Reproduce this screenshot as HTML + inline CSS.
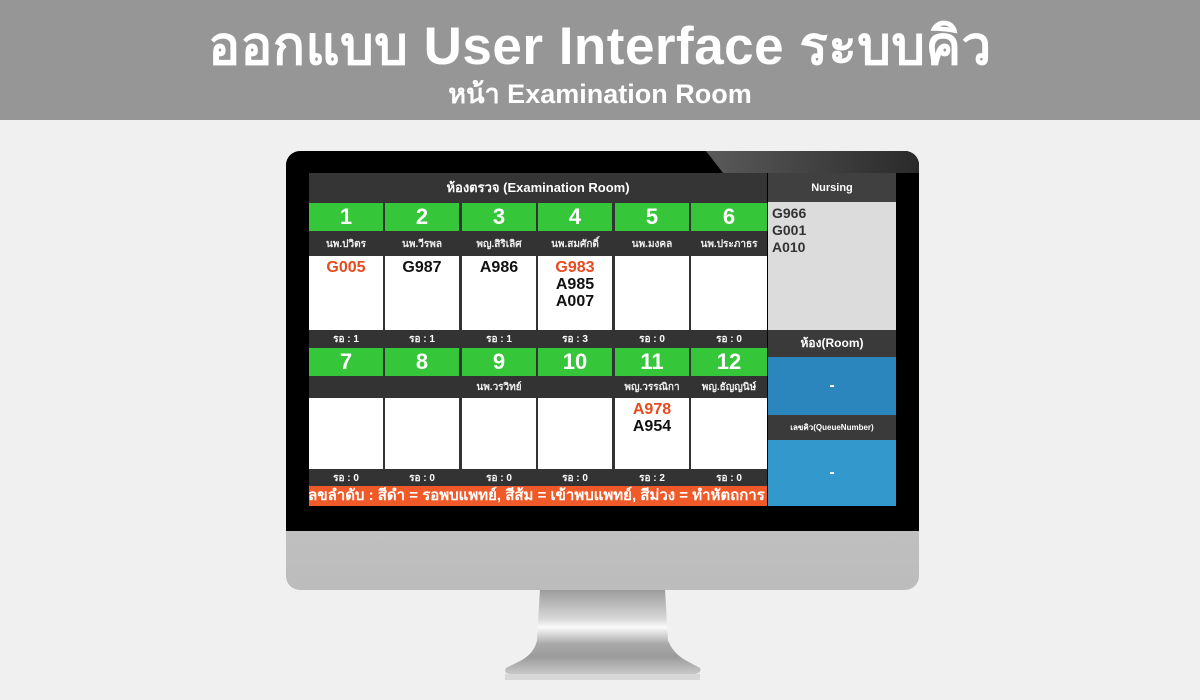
<!DOCTYPE html>
<html><head><meta charset="utf-8"><style>
*{margin:0;padding:0;box-sizing:border-box}
body{width:1200px;height:700px;background:#f0f0f0;position:relative;overflow:hidden;font-family:"Liberation Sans","Noto Sans CJK SC",sans-serif;font-weight:bold}
div,span{font-weight:bold}
.a{position:absolute}
.hdr{left:0;top:0;width:1200px;height:120px;background:#969696;color:#fff;text-align:center}
.c{display:flex;align-items:center;justify-content:center;color:#fff}
.dk{background:#383838}
.gr{background:#36c63a;font-size:22px}
.nm{font-size:10px;color:#eee}
.wt{background:#fff;color:#111;font-size:16px;text-align:center;line-height:17px;padding-top:3px}
.wa{font-size:10px}
.r{color:#e8491d}
</style></head><body>
<div class="a hdr">
<div class="a" style="left:0;width:1200px;top:4px;font-size:53px;letter-spacing:0.5px">ออกแบบ User Interface ระบบคิว</div>
<div class="a" style="left:0;width:1200px;top:72px;font-size:27px">หน้า Examination Room</div>
</div>
<svg class="a" style="left:0;top:0" width="1200" height="700">
<defs><linearGradient id="st" x1="0" y1="0" x2="0" y2="1">
<stop offset="0" stop-color="#9a9a9a"/><stop offset="0.35" stop-color="#d8d8d8"/><stop offset="0.45" stop-color="#fafafa"/><stop offset="0.65" stop-color="#a8a8a8"/><stop offset="0.8" stop-color="#9c9c9c"/><stop offset="1" stop-color="#c8c8c8"/></linearGradient></defs>
<path d="M540 589 L665 589 L668 640 Q672 652 685 660 L700 668 Q702 673 695 674 L510 674 Q503 673 506 668 L522 660 Q535 652 537 640 Z" fill="url(#st)"/>
<rect x="505" y="674" width="195" height="6" fill="#d8d8d8"/>
</svg>
<div class="a" style="left:286px;top:151px;width:633px;height:439px;border-radius:14px;background:linear-gradient(#d4d4d4,#bcbcbc);overflow:hidden">
<div class="a" style="left:0;top:0;width:633px;height:380px;background:#000"></div>
<div class="a" style="left:420px;top:0;width:213px;height:22px;background:linear-gradient(90deg,#5a5a5a,#2a2a2a);clip-path:polygon(0 0,100% 0,100% 100%,8% 100%)"></div>
</div>
<div class="a dk c" style="left:309px;top:173px;width:458px;height:29px;font-size:13px;background:#353535">ห้องตรวจ (Examination Room)</div>
<div class="a c" style="left:768px;top:173px;width:128px;height:29px;font-size:11px;background:#404040">Nursing</div>
<div class="a" style="left:309px;top:202px;width:458px;height:304px;background:#333"></div>
<div class="a" style="left:768px;top:202px;width:128px;height:128px;background:#dcdcdc;color:#333;font-size:14px;line-height:17px;padding:3px 4px">G966<br>G001<br>A010</div>
<div class="a c" style="left:768px;top:330px;width:128px;height:27px;font-size:12px;background:#3a3a3a">ห้อง(Room)</div>
<div class="a c" style="left:768px;top:357px;width:128px;height:58px;font-size:16px;background:#2b86be">-</div>
<div class="a c" style="left:768px;top:415px;width:128px;height:25px;font-size:8px;background:#3a3a3a">เลขคิว(QueueNumber)</div>
<div class="a c" style="left:768px;top:440px;width:128px;height:66px;font-size:16px;background:#3399cc">-</div>
<div class="a" style="left:309px;top:486px;width:458px;height:20px;background:#f05a28;overflow:hidden"><div class="a" style="left:-6px;top:0;color:#fff;font-size:15px;line-height:20px;white-space:nowrap">เลขลำดับ : สีดำ = รอพบแพทย์, สีส้ม = เข้าพบแพทย์, สีม่วง = ทำหัตถการ</div></div>
<div id="g"></div>
<script>
var n1=["นพ.ปวิตร","นพ.วีรพล","พญ.สิริเลิศ","นพ.สมศักดิ์","นพ.มงคล","นพ.ประภาธร"];
var n2=["","","นพ.วรวิทย์","","พญ.วรรณิกา","พญ.ธัญญนิษ์"];
var q1=['<span class="r">G005</span>','G987','A986','<span class="r">G983</span><br>A985<br>A007','',''];
var q2=['','','','','<span class="r">A978</span><br>A954',''];
var w1=[1,1,1,3,0,0],w2=[0,0,0,0,2,0];
var h='';
for(var i=0;i<6;i++){
var x=309+Math.round(i*76.4),w=(i==5?767-x:74);
function row(t,hh,cls,txt){h+='<div class="a c '+cls+'" style="left:'+x+'px;top:'+t+'px;width:'+w+'px;height:'+hh+'px">'+txt+'</div>';}
row(203,28,'gr',i+1);row(233,22,'nm',n1[i]);
h+='<div class="a wt" style="left:'+x+'px;top:256px;width:'+w+'px;height:74px">'+q1[i]+'</div>';
row(331,16,'wa','รอ : '+w1[i]);
row(348,28,'gr',i+7);row(377,20,'nm',n2[i]);
h+='<div class="a wt" style="left:'+x+'px;top:398px;width:'+w+'px;height:71px">'+q2[i]+'</div>';
row(470,16,'wa','รอ : '+w2[i]);
}
document.getElementById('g').innerHTML=h;
</script>
</body></html>
